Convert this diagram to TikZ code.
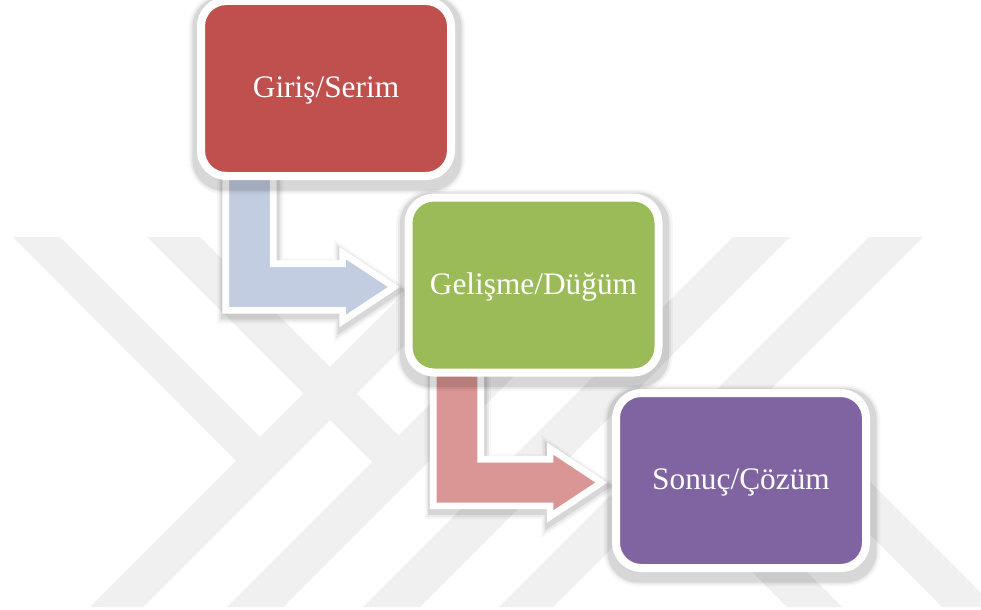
\documentclass[tikz,border=0pt]{standalone}
\usepackage{fontspec}
\setmainfont{Liberation Serif}
\usetikzlibrary{calc}

\pgfdeclarelayer{watermark}
\pgfdeclarelayer{arrows}
\pgfdeclarelayer{shadows}
\pgfsetlayers{watermark,arrows,shadows,main}

\definecolor{boxred}{HTML}{C0504D}
\definecolor{boxgreen}{HTML}{9BBB59}
\definecolor{boxpurple}{HTML}{8064A2}
\definecolor{arrowblue}{HTML}{C2CDE1}
\definecolor{arrowpink}{HTML}{D99694}
\definecolor{markgray}{HTML}{F0F0F0}

\tikzset{
  stage/.style={rectangle, rounded corners=19pt, draw=white, line width=6pt,
      minimum width=187.5pt, minimum height=131.25pt, inner sep=0pt,
      text height=14pt, text depth=0pt,
      text=white, font=\fontsize{23.5}{28}\selectfont},
  shade1/.style={draw=black, draw opacity=0.08, line width=8.5pt},
  shade2/.style={draw=black, draw opacity=0.05, line width=11pt},
  shade3/.style={draw=black, draw opacity=0.03, line width=14pt},
  flowarrow/.style={draw=white, line width=5pt, miter limit=10},
  band/.style={fill=markgray},
}

% outline of a bent arrow leaving the bottom of #1 towards the left side of #2,
% moved by (#3,#4) in pt
\newcommand\arrowoutline[4]{%
  let \p1=(#1.south west), \p2=(#2.west) in
    (\x1+21.5pt+#3, \y1+30pt+#4) -- (\x1+21.5pt+#3, \y2-19pt+#4)
    -- (\x2-46.4pt+#3, \y2-19pt+#4) -- (\x2-46.4pt+#3, \y2-27pt+#4)
    -- (\x2-7.9pt+#3, \y2-1.5pt+#4)
    -- (\x2-46.4pt+#3, \y2+24pt+#4) -- (\x2-46.4pt+#3, \y2+16pt+#4)
    -- (\x1+57.2pt+#3, \y2+16pt+#4) -- (\x1+57.2pt+#3, \y1+30pt+#4) -- cycle}

% bent arrow with its soft shadow, colour #3
\newcommand\stagearrow[3]{%
  \path[shade3] \arrowoutline{#1}{#2}{0.5pt}{-3pt};
  \path[shade2] \arrowoutline{#1}{#2}{0.5pt}{-3pt};
  \path[shade1] \arrowoutline{#1}{#2}{0.5pt}{-2.5pt};
  \path[flowarrow, fill=#3] \arrowoutline{#1}{#2}{0pt}{0pt};
}

% soft shadow under a stage box
\newcommand\stageshadow[1]{%
  \foreach \s in {shade3,shade2,shade1}
    \draw[\s, rounded corners=19pt]
      ([shift={(1,5)}]#1.south west) rectangle ([shift={(1,5)}]#1.north east);
}

\begin{document}
\begin{tikzpicture}[x=0.75pt, y=-0.75pt]
  \useasboundingbox (0,0) rectangle (981,610);

  % faint logo in the background
  \begin{pgfonlayer}{watermark}
    \fill[white] (0,0) rectangle (981,610);
    \begin{scope}
      \clip (0,237) rectangle (981,607);
      % rising bands
      \fill[band] (460,237) -- (513,237) -- (143,607) -- (90,607) -- cycle;
      \fill[band] (597,237) -- (653,237) -- (283,607) -- (227,607) -- cycle;
      \fill[band] (733,237) -- (790,237) -- (420,607) -- (363,607) -- cycle;
      \fill[band] (869,237) -- (923,237) -- (553,607) -- (499,607) -- cycle;
      % falling bands on the left
      \fill[band] (13,237) -- (60,237) -- (262,439) -- (236,461) -- cycle;
      \fill[band] (147,237) -- (200,237) -- (400,437) -- (372,462) -- cycle;
      % falling bands on the right
      \fill[band] (735,400) -- (788,400) -- (995,607) -- (942,607) -- cycle;
      \fill[band] (650,470) -- (705,470) -- (842,607) -- (787,607) -- cycle;
    \end{scope}
  \end{pgfonlayer}

  % the three stages
  \node[stage, fill=boxred]    (intro) at (326,88.5)  {Giriş/Serim};
  \node[stage, fill=boxgreen]  (dev)   at (533.5,285) {Gelişme/Düğüm};
  \node[stage, fill=boxpurple] (res)   at (741,480.5) {Sonuç/Çözüm};

  \begin{pgfonlayer}{shadows}
    \stageshadow{intro}
    \stageshadow{dev}
    \stageshadow{res}
  \end{pgfonlayer}

  % connectors between the stages
  \begin{pgfonlayer}{arrows}
    \stagearrow{intro}{dev}{arrowblue}
    \stagearrow{dev}{res}{arrowpink}
  \end{pgfonlayer}
\end{tikzpicture}
\end{document}
